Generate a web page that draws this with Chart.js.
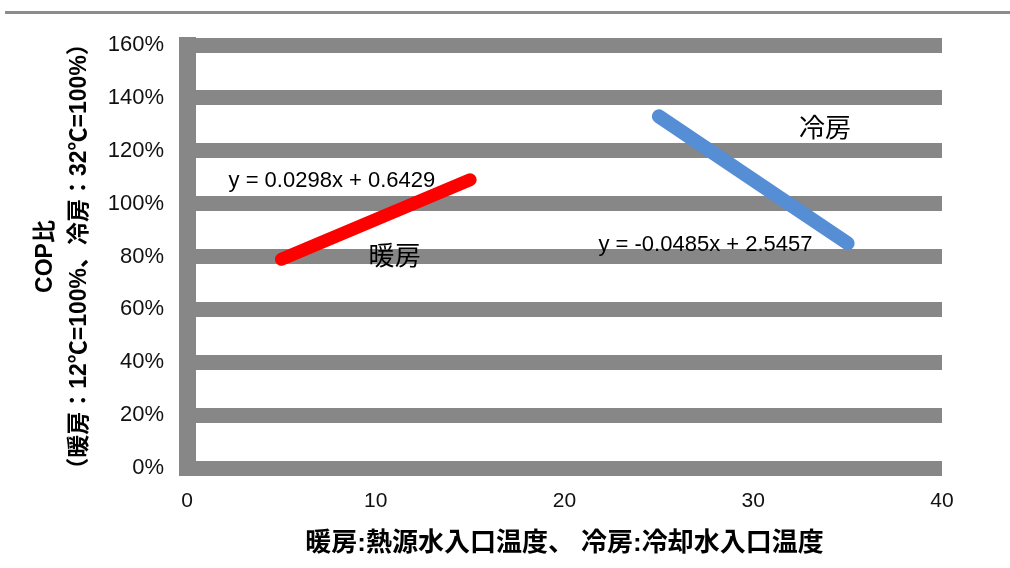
<!DOCTYPE html>
<html>
<head>
<meta charset="utf-8">
<script src="https://cdn.jsdelivr.net/npm/chart.js@4/dist/chart.umd.min.js"></script>
<style>
  body { margin: 0; background: #fff; }
  #wrap { position: relative; width: 1010px; height: 568px; }
  #topRule { position: absolute; left: 5px; right: 0; top: 11px; height: 3px; background: #8c8c8c; }
</style>
</head>
<body>
<div id="wrap">
  <div id="topRule"></div>
  <canvas id="myChart" width="1010" height="568"></canvas>
</div>
<script>
// data
const heatX = [5, 10, 15];
const heatY = [0.79, 0.94, 1.09];
const coolX = [25, 30, 35];
const coolY = [1.33, 1.09, 0.85];
// trendline end points (from the printed equations)
const heatTrendX = [5, 15];
const heatTrendY = [0.797, 1.095];
const coolTrendX = [25, 35];
const coolTrendY = [1.333, 0.848];

const xTicks = [0, 10, 20, 30, 40];
const yTicks = [0, 0.2, 0.4, 0.6, 0.8, 1.0, 1.2, 1.4, 1.6];

const xTitle = '暖房:熱源水入口温度、 冷房:冷却水入口温度';
const yTitle = ['COP比', '（暖房：12℃=100%、冷房：32℃=100%）'];

// text labels in data coordinates
const labelText = ['y = 0.0298x + 0.6429', '暖房', '冷房', 'y = -0.0485x + 2.5457'];
const labelX = [2.2, 11.0, 33.8, 21.8];
const labelY = [1.085, 0.795, 1.28, 0.845];
const labelAlign = ['left', 'center', 'center', 'left'];
const labelSize = [22, 26, 26, 22];

const grey = '#878787';
const fontFam = "'Liberation Sans', 'Noto Sans CJK JP', sans-serif";

function pts(xs, ys) {
  return xs.map((x, i) => ({ x: x, y: ys[i] }));
}

const labelsPlugin = {
  id: 'labels',
  afterDatasetsDraw(chart) {
    const ctx = chart.ctx;
    const xs = chart.scales.x;
    const ys = chart.scales.y;
    ctx.save();
    ctx.fillStyle = '#000';
    ctx.textBaseline = 'middle';
    labelText.forEach((t, i) => {
      ctx.font = labelSize[i] + 'px ' + fontFam;
      ctx.textAlign = labelAlign[i];
      ctx.fillText(t, xs.getPixelForValue(labelX[i]), ys.getPixelForValue(labelY[i]));
    });
    ctx.restore();
  }
};

const config = {
  type: 'scatter',
  data: {
    datasets: [
      { data: pts(heatTrendX, heatTrendY), showLine: true, borderColor: '#9a9a9a', borderWidth: 3, pointRadius: 0, order: 4 },
      { data: pts(coolTrendX, coolTrendY), showLine: true, borderColor: '#444', borderWidth: 3, pointRadius: 0, order: 3 },
      { data: pts(heatX, heatY), showLine: true, borderColor: '#ff0000', borderWidth: 13, borderCapStyle: 'round', borderJoinStyle: 'round', pointRadius: 0, order: 2 },
      { data: pts(coolX, coolY), showLine: true, borderColor: '#558ed5', borderWidth: 14, borderCapStyle: 'round', borderJoinStyle: 'round', pointRadius: 0, order: 1 }
    ]
  },
  options: {
    responsive: false,
    animation: false,
    layout: { padding: { left: 20, top: 45, right: 68, bottom: 5 } },
    plugins: { legend: { display: false }, tooltip: { enabled: false } },
    scales: {
      x: {
        type: 'linear',
        min: 0, max: 40,
        afterBuildTicks: s => { s.ticks = xTicks.map(v => ({ value: v })); },
        afterFit: s => { s.height = 95; },
        grid: { display: false },
        border: { display: false },
        ticks: { color: '#111', font: { family: fontFam, size: 21 }, padding: 13 },
        title: { display: true, text: xTitle, color: '#000', font: { family: fontFam, size: 26, weight: 'bold' }, padding: { top: 4, bottom: 4 } }
      },
      y: {
        min: 0, max: 1.6,
        afterBuildTicks: s => { s.ticks = yTicks.map(v => ({ value: v })); },
        afterFit: s => { s.width = 167; },
        grid: { color: grey, lineWidth: 15, tickLength: 8 },
        border: { display: true, color: grey, width: 17 },
        ticks: { color: '#111', font: { family: fontFam, size: 22 }, padding: 15, callback: v => Math.round(v * 100) + '%' },
        title: { display: true, text: yTitle, color: '#000', font: { family: fontFam, size: 23, weight: 'bold', lineHeight: 1.5 }, padding: { top: 8, bottom: 0 } }
      }
    }
  },
  plugins: [labelsPlugin]
};

const myChart = new Chart('myChart', config);
</script>
</body>
</html>
